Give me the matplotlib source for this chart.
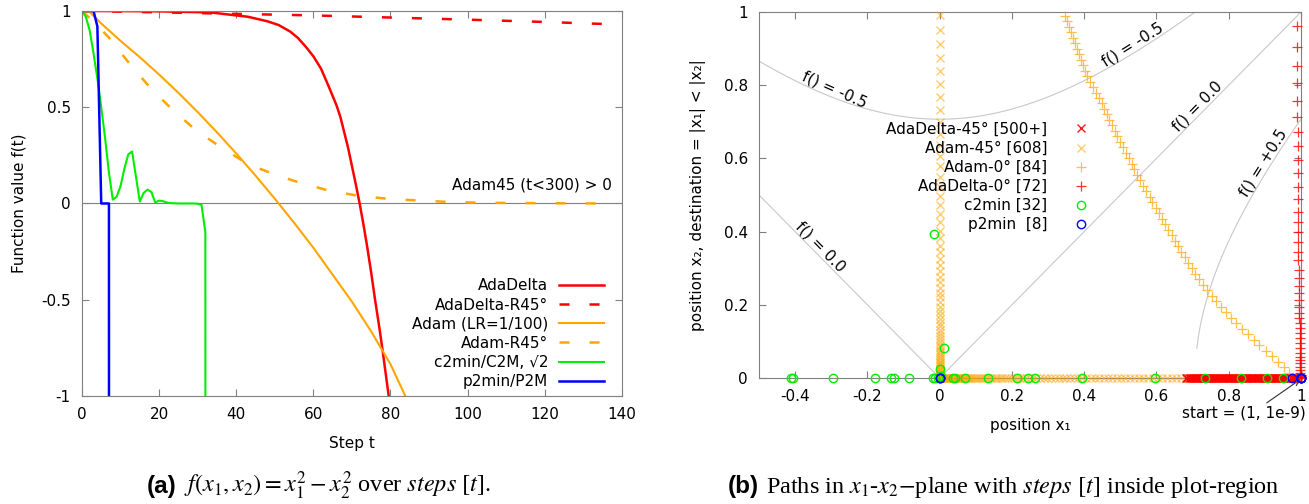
import numpy as np
import matplotlib
matplotlib.use("Agg")
import matplotlib.pyplot as plt
from matplotlib.lines import Line2D
from matplotlib.ticker import FuncFormatter

plt.rcParams["font.family"] = ["DejaVu Sans"]
plt.rcParams["axes.unicode_minus"] = False

RED = "#ff0000"
ORANGE = "#ffa500"
GREEN = "#00ee00"
BLUE = "#0000ff"
CONTOUR = "#c8c8c8"
BORDER = "#808080"
FS = 11

# ---------------- (a) function value over steps ----------------
ADADELTA_T = [0, 10, 20, 30, 34, 43, 48, 51, 54, 56, 58, 60, 62, 64, 66, 67,
              69, 71, 72, 73, 74, 75, 76, 77, 78, 79, 80]
ADADELTA_F = [1.0, 0.9995, 0.998, 0.994, 0.991, 0.97, 0.947, 0.927, 0.893,
              0.86, 0.815, 0.765, 0.70, 0.607, 0.51, 0.45, 0.29, 0.10, 0.0,
              -0.11, -0.23, -0.36, -0.50, -0.63, -0.77, -0.92, -1.07]

ADADELTA45_T = [0, 20, 40, 60, 80, 100, 120, 136]
ADADELTA45_F = [1.0, 0.993, 0.985, 0.977, 0.966, 0.955, 0.943, 0.932]

ADAM_T = [0, 2, 5, 10, 15, 20, 25, 30, 35, 40, 45, 50, 55, 60, 65, 70, 75,
          80, 85]
ADAM_F = [1.0, 0.995, 0.935, 0.845, 0.76, 0.67, 0.575, 0.475, 0.37, 0.26,
          0.145, 0.025, -0.10, -0.23, -0.37, -0.51, -0.665, -0.835, -1.05]

ADAM45_T = [0, 3, 7, 10, 13, 18, 24, 30, 37, 43, 51, 57, 64, 72, 80, 88, 95,
            104, 115, 125, 136]
ADAM45_F = [1.0, 0.945, 0.862, 0.785, 0.71, 0.595, 0.477, 0.373, 0.28, 0.205,
            0.143, 0.105, 0.067, 0.039, 0.023, 0.015, 0.008, 0.004, 0.002,
            0.001, 0.0]

C2MIN_T = [0, 1, 2, 3, 4, 5, 6, 7, 8, 9, 10, 11, 12, 13, 14, 15, 16, 17, 18,
           19, 20, 21, 22, 23, 24, 25, 26, 27, 28, 29, 30, 31, 32, 33]
C2MIN_F = [1.0, 0.97, 0.9, 0.78, 0.65, 0.5, 0.34, 0.16, 0.02, 0.035, 0.09,
           0.18, 0.255, 0.27, 0.14, 0.01, 0.055, 0.072, 0.06, 0.005, 0.015,
           0.012, 0.005, 0.002, 0.001, 0.0, 0.0, 0.0, 0.0, 0.0, -0.001,
           -0.007, -0.15, -100.0]

P2MIN_T = [0, 1, 2, 3, 4, 5, 6, 7, 8]
P2MIN_F = [1.0, 1.0, 1.0, 1.0, 0.92, 0.0, 0.0, 0.0, -100.0]

LEFT_LABELS = ["AdaDelta", "AdaDelta-R45°", "Adam (LR=1/100)", "Adam-R45°",
               "c2min/C2M, √2", "p2min/P2M"]

# ---------------- (b) paths in the x1-x2 plane ----------------
# AdaDelta-45°: dense band lying on x2 = 0
ADADELTA45_X1 = [0.990, 0.9865, 0.983, 0.9795, 0.976, 0.9725, 0.969, 0.9655,
                 0.962, 0.9585, 0.955, 0.9515, 0.948, 0.9445, 0.941, 0.9375,
                 0.934, 0.9305, 0.927, 0.9235, 0.920, 0.9165, 0.913, 0.9095,
                 0.906, 0.9025, 0.899, 0.8955, 0.892, 0.8885, 0.885, 0.8815,
                 0.878, 0.8745, 0.871, 0.8675, 0.864, 0.8605, 0.857, 0.8535,
                 0.850, 0.8465, 0.843, 0.8395, 0.836, 0.8325, 0.829, 0.8255,
                 0.822, 0.8185, 0.815, 0.8115, 0.808, 0.8045, 0.801, 0.7975,
                 0.794, 0.7905, 0.787, 0.7835, 0.780, 0.7765, 0.773, 0.7695,
                 0.766, 0.7625, 0.759, 0.7555, 0.752, 0.7485, 0.745, 0.7415,
                 0.738, 0.7345, 0.731, 0.7275, 0.724, 0.7205, 0.717, 0.7135,
                 0.710, 0.7065, 0.703, 0.6995, 0.696, 0.6925, 0.689, 0.6855,
                 0.682]

# Adam-45°: along x2 = 0 towards the origin, then up the column x1 = 0
ADAM45_BOTTOM_X1 = [0.990, 0.980, 0.970, 0.960, 0.950, 0.940, 0.930, 0.918,
                    0.905, 0.891, 0.877, 0.863, 0.849, 0.835, 0.821, 0.807,
                    0.793, 0.779, 0.765, 0.751, 0.737, 0.723, 0.709, 0.695,
                    0.681, 0.668, 0.655, 0.642, 0.629, 0.616, 0.603, 0.590,
                    0.577, 0.564, 0.551, 0.538, 0.526, 0.514, 0.502, 0.490,
                    0.478, 0.466, 0.454, 0.442, 0.430, 0.418, 0.406, 0.395,
                    0.384, 0.373, 0.362, 0.351, 0.340, 0.329, 0.318, 0.308,
                    0.298, 0.288, 0.278, 0.268, 0.258, 0.249, 0.240, 0.231,
                    0.222, 0.213, 0.205, 0.197, 0.189, 0.181, 0.173, 0.166,
                    0.159, 0.152, 0.145, 0.138, 0.132, 0.126, 0.120, 0.114,
                    0.108, 0.103, 0.098, 0.093, 0.088, 0.083, 0.079, 0.075,
                    0.071, 0.067, 0.063, 0.059, 0.056, 0.053, 0.050, 0.047,
                    0.044, 0.041, 0.038, 0.035, 0.032, 0.029, 0.026, 0.023,
                    0.020, 0.017, 0.014, 0.011, 0.008, 0.005, 0.003, 0.001]
ADAM45_UP_X2 = [0.001, 0.002, 0.003, 0.004, 0.005, 0.006, 0.008, 0.010, 0.012,
                0.014, 0.016, 0.019, 0.022, 0.025, 0.028, 0.032, 0.036, 0.040,
                0.044, 0.049, 0.054, 0.059, 0.065, 0.071, 0.077, 0.084, 0.091,
                0.098, 0.106, 0.114, 0.123, 0.132, 0.141, 0.151, 0.161, 0.172,
                0.183, 0.195, 0.207, 0.220, 0.233, 0.247, 0.261, 0.276, 0.292,
                0.308, 0.325, 0.343, 0.362, 0.382, 0.403, 0.425, 0.448, 0.472,
                0.497, 0.523, 0.550, 0.578, 0.607, 0.637, 0.668, 0.700, 0.733,
                0.767, 0.802, 0.838, 0.875, 0.913, 0.952, 0.992]

# Adam-0°: curved path from (1, 0) up to the top edge
ADAM0_X1 = [0.985, 0.968, 0.952, 0.937, 0.920, 0.902, 0.885, 0.869, 0.853,
            0.836, 0.821, 0.806, 0.792, 0.778, 0.765, 0.753, 0.741, 0.730,
            0.718, 0.707, 0.697, 0.687, 0.678, 0.669, 0.660, 0.651, 0.642,
            0.633, 0.624, 0.615, 0.607, 0.598, 0.589, 0.581, 0.572, 0.563,
            0.555, 0.547, 0.539, 0.531, 0.523, 0.515, 0.507, 0.500, 0.492,
            0.485, 0.477, 0.470, 0.463, 0.455, 0.448, 0.440, 0.433, 0.423,
            0.415, 0.408, 0.402, 0.397, 0.392, 0.386, 0.380, 0.375, 0.369,
            0.364, 0.358, 0.352, 0.346]
ADAM0_X2 = [0.0, 0.015, 0.03, 0.045, 0.06, 0.075, 0.09, 0.105, 0.12, 0.135,
            0.15, 0.165, 0.18, 0.195, 0.21, 0.225, 0.24, 0.255, 0.27, 0.285,
            0.30, 0.315, 0.33, 0.345, 0.36, 0.375, 0.39, 0.405, 0.42, 0.435,
            0.45, 0.465, 0.48, 0.495, 0.51, 0.525, 0.54, 0.555, 0.57, 0.585,
            0.60, 0.615, 0.63, 0.645, 0.66, 0.675, 0.69, 0.705, 0.72, 0.735,
            0.75, 0.765, 0.78, 0.795, 0.81, 0.825, 0.84, 0.855, 0.87, 0.885,
            0.90, 0.915, 0.93, 0.945, 0.96, 0.975, 0.99]

# AdaDelta-0°: column next to x1 = 1
ADADELTA0_X1 = [0.999, 0.999, 0.999, 0.999, 0.999, 0.999, 0.998, 0.998,
                0.998, 0.998, 0.998, 0.997, 0.997, 0.997, 0.997, 0.996,
                0.996, 0.996, 0.996, 0.995, 0.995, 0.995, 0.995, 0.994,
                0.994, 0.994, 0.994, 0.993, 0.993, 0.993, 0.993, 0.992,
                0.992, 0.992, 0.992, 0.991, 0.991, 0.991, 0.991, 0.990,
                0.990, 0.990, 0.990, 0.990, 0.989, 0.989, 0.989, 0.989,
                0.989, 0.989, 0.989]
ADADELTA0_X2 = [0.001, 0.002, 0.003, 0.005, 0.007, 0.009, 0.013, 0.022,
                0.031, 0.040, 0.049, 0.058, 0.068, 0.082, 0.096, 0.109,
                0.123, 0.137, 0.150, 0.164, 0.177, 0.195, 0.213, 0.232,
                0.250, 0.272, 0.295, 0.322, 0.345, 0.372, 0.400, 0.427,
                0.454, 0.488, 0.523, 0.559, 0.596, 0.634, 0.673, 0.714,
                0.758, 0.805, 0.853, 0.905, 0.962, 0.0, 0.0, 0.0, 0.0,
                0.0, 0.0]

C2MIN_X1 = [1.0, 0.95, 0.905, 0.835, 0.735, 0.595, 0.395, 0.265, 0.245,
            0.215, 0.135, 0.07, 0.042, 0.036, -0.012, -0.018, -0.085, -0.125,
            -0.135, -0.18, -0.295, -0.405, -0.412, -0.005, 0.003, 0.0, 0.012,
            -0.015]
C2MIN_X2 = [0.0, 0.0, 0.0, 0.0, 0.0, 0.0, 0.0, 0.0, 0.0, 0.0, 0.0, 0.0, 0.0,
            0.0, 0.0, 0.0, 0.0, 0.0, 0.0, 0.0, 0.0, 0.0, 0.0, 0.0, 0.006,
            0.024, 0.083, 0.393]

P2MIN_X1 = [1.0, 1.0, 1.0, 0.999, 0.975, 0.0, 0.0, 0.0]
P2MIN_X2 = [0.0, 0.0, 0.0, 0.0, 0.0, 0.0, 0.0, 0.0]

RIGHT_LABELS = ["AdaDelta-45° [500+]", "Adam-45° [608]", "Adam-0° [84]",
                "AdaDelta-0° [72]", "c2min [32]", "p2min  [8]"]

fmt = FuncFormatter(lambda v, p: f"{v:g}")


def style(ax):
    for s in ax.spines.values():
        s.set_color(BORDER)
        s.set_linewidth(0.8)
    ax.tick_params(direction="in", length=5, width=0.8, color=BORDER,
                   top=True, right=True, labelsize=FS, pad=8)
    ax.xaxis.set_major_formatter(fmt)
    ax.yaxis.set_major_formatter(fmt)


fig = plt.figure(figsize=(13.09, 5.04), dpi=100)
ax1 = fig.add_axes([0.0626, 0.2143, 0.4125, 0.7639])
ax2 = fig.add_axes([0.5798, 0.25, 0.4141, 0.7262])

# ===== (a) =====
style(ax1)
ax1.axhline(0, color=BORDER, lw=0.8, zorder=1)
ax1.plot(ADADELTA_T, ADADELTA_F, color=RED, lw=1.8, label=LEFT_LABELS[0])
ax1.plot(ADADELTA45_T, ADADELTA45_F, color=RED, lw=1.8, dashes=(4.0, 8.0),
         label=LEFT_LABELS[1])
ax1.plot(ADAM_T, ADAM_F, color=ORANGE, lw=1.5, label=LEFT_LABELS[2])
ax1.plot(ADAM45_T, ADAM45_F, color=ORANGE, lw=1.8, dashes=(4.0, 8.0),
         label=LEFT_LABELS[3])
ax1.plot(C2MIN_T, C2MIN_F, color=GREEN, lw=1.5, label=LEFT_LABELS[4])
ax1.plot(P2MIN_T, P2MIN_F, color=BLUE, lw=1.8, label=LEFT_LABELS[5])
ax1.set_xlim(0, 140)
ax1.set_ylim(-1, 1)
ax1.set_xticks(range(0, 141, 20))
ax1.set_yticks([-1, -0.5, 0, 0.5, 1])
ax1.set_xlabel("Step t", fontsize=FS)
ax1.set_ylabel("Function value f(t)", fontsize=FS)
ax1.xaxis.set_label_coords(0.5, -0.104)
ax1.yaxis.set_label_coords(-0.102, 0.5)
ax1.text(137.4, 0.096, "Adam45 (t<300) > 0", fontsize=FS, ha="right",
         va="center")
ax1.legend(loc="lower right", bbox_to_anchor=(0.967, 0.018), frameon=False,
           markerfirst=False, fontsize=FS, handlelength=2.95,
           handletextpad=0.72, labelspacing=0.27, borderpad=0,
           borderaxespad=0)

# ===== (b) =====
style(ax2)
g1, g2 = np.meshgrid(np.linspace(-0.5, 1.0, 301), np.linspace(0.0, 1.0, 201))
ax2.contour(g1, g2, g1 ** 2 - g2 ** 2, levels=[-0.5, 0.0], colors=CONTOUR,
            linewidths=0.8, linestyles="solid", zorder=1)
h1, h2 = np.meshgrid(np.linspace(0.6, 1.0, 201), np.linspace(0.08, 1.0, 201))
ax2.contour(h1, h2, h1 ** 2 - h2 ** 2, levels=[0.5], colors=CONTOUR,
            linewidths=0.8, linestyles="solid", zorder=1)

lab = dict(fontsize=FS, ha="center", va="bottom", rotation_mode="anchor")
ax2.text(-0.30, 0.77, "f() = -0.5", rotation=-24, **lab)
ax2.text(0.545, 0.892, "f() = -0.5", rotation=32, **lab)
ax2.text(-0.345, 0.345, "f() = 0.0", rotation=-45.4, **lab)
ax2.text(0.728, 0.728, "f() = 0.0", rotation=45.4, **lab)
ax2.text(0.913, 0.577, "f() = +0.5", rotation=58, **lab)

mk = dict(linestyle="none", clip_on=False)
s_a45 = dict(marker="x", ms=6, mew=1.0, color=ORANGE, alpha=0.55)
s_d45 = dict(marker="x", ms=6, mew=1.0, color=RED, alpha=0.9)
s_a0 = dict(marker="+", ms=6.5, mew=0.9, color=ORANGE, alpha=0.7)
s_d0 = dict(marker="+", ms=6.5, mew=0.9, color=RED, alpha=0.8)
s_c2 = dict(marker="o", ms=6, mew=1.0, mfc="none", mec=GREEN)
s_p2 = dict(marker="o", ms=6, mew=1.0, mfc="none", mec=BLUE)

# bottom bands lie on x2 = 0, the Adam-45° column on x1 = 0
ax2.plot(ADAM45_BOTTOM_X1, np.zeros(len(ADAM45_BOTTOM_X1)), zorder=3,
         **s_a45, **mk)
ax2.plot(np.zeros(len(ADAM45_UP_X2)), ADAM45_UP_X2, zorder=3, **s_a45, **mk)
ax2.plot(ADADELTA45_X1, np.zeros(len(ADADELTA45_X1)), zorder=3.2, **s_d45,
         **mk)
ax2.plot(ADAM0_X1, ADAM0_X2, zorder=3.3, **s_a0, **mk)
ax2.plot(ADADELTA0_X1, ADADELTA0_X2, zorder=3.4, **s_d0, **mk)
ax2.plot(C2MIN_X1, C2MIN_X2, zorder=3.5, **s_c2, **mk)
ax2.plot(P2MIN_X1, P2MIN_X2, zorder=3.6, **s_p2, **mk)

handles = [Line2D([], [], linestyle="none", **s) for s in
           (s_d45, s_a45, s_a0, s_d0, s_c2, s_p2)]
ax2.legend(handles, RIGHT_LABELS, loc="upper right",
           bbox_to_anchor=(0.622, 0.70), frameon=False, markerfirst=False,
           fontsize=FS, handlelength=2.0, handletextpad=1.2,
           labelspacing=0.27, borderpad=0, borderaxespad=0)

ax2.set_xlim(-0.5, 1.0)
ax2.set_ylim(0, 1)
ax2.set_xticks([-0.4, -0.2, 0, 0.2, 0.4, 0.6, 0.8, 1.0])
ax2.set_yticks([0, 0.2, 0.4, 0.6, 0.8, 1.0])
ax2.set_xlabel("position x₁", fontsize=FS)
ax2.set_ylabel("position x₂, destination = |x₁| < |x₂|", fontsize=FS)
ax2.xaxis.set_label_coords(0.5, -0.109)
ax2.yaxis.set_label_coords(-0.098, 0.5)

ax2.annotate("", xy=(0.998, -0.004), xytext=(0.905, -0.068),
             annotation_clip=False,
             arrowprops=dict(arrowstyle="->", color="#303030", lw=0.8,
                             shrinkA=0, shrinkB=0))
ax2.text(1.013, -0.096, "start = (1, 1e-9)", fontsize=FS, ha="right",
         va="center", clip_on=False)

# ===== captions =====
cy = 0.022
CFS = 17.5
fig.text(176 / 1309, cy, "(a)", fontfamily="Liberation Sans",
         fontweight="bold", fontsize=CFS, ha="right", va="baseline")
fig.text(184 / 1309, cy,
         r"$f(x_1,x_2) = x_1^2 - x_2^2$ over $\mathit{steps}$ $[t]$.",
         fontfamily="Liberation Serif", math_fontfamily="stix", fontsize=CFS,
         ha="left", va="baseline")
fig.text(759 / 1309, cy, "(b)", fontfamily="Liberation Sans",
         fontweight="bold", fontsize=CFS, ha="right", va="baseline")
fig.text(766 / 1309, cy,
         r"Paths in $x_1$-$x_2{-}$plane with $\mathit{steps}$ $[t]$ "
         r"inside plot-region",
         fontfamily="Liberation Serif", math_fontfamily="stix", fontsize=CFS,
         ha="left", va="baseline")

fig.savefig("out.png", dpi=100)
